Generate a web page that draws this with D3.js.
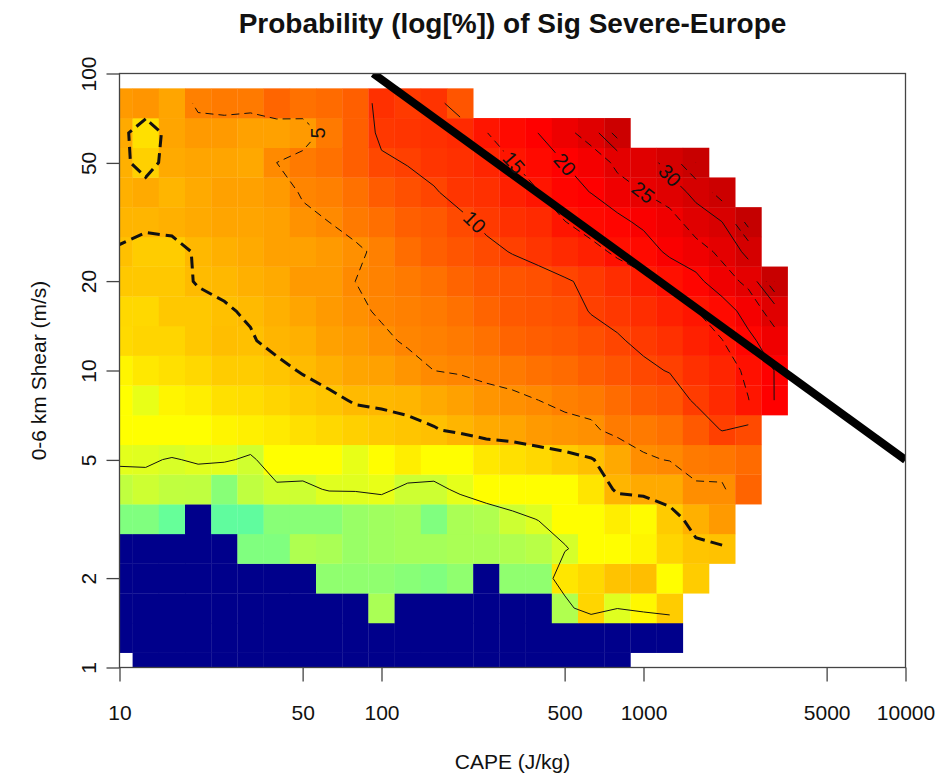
<!DOCTYPE html>
<html>
<head>
<meta charset="utf-8">
<script src="https://d3js.org/d3.v7.min.js"></script>
<style>
  body { margin: 0; background: #fff; }
  text { font-family: "Liberation Sans", Arial, sans-serif; fill: #111; }
</style>
</head>
<body>
<div id="chart-area"></div>
<script>
/*
*    sig severe probability map
*/

// bin centres, log10 units
var logCape = [1.0, 1.1, 1.2, 1.3, 1.4, 1.5, 1.6, 1.7, 1.8, 1.9, 2.0, 2.1, 2.2,
               2.3, 2.4, 2.5, 2.6, 2.7, 2.8, 2.9, 3.0, 3.1, 3.2, 3.3, 3.4, 3.5];
var logShear = [0.0, 0.1, 0.2, 0.3, 0.4, 0.5, 0.6, 0.7, 0.8, 0.9,
                1.0, 1.1, 1.2, 1.3, 1.4, 1.5, 1.6, 1.7, 1.8, 1.9];

var N = -4.6;   // bins with no events (drawn navy)

// log[%] per bin, row 0 = lowest shear, null = no data
var logProb = [
  [null, N, N, N, N, N, N, N, N, N, N, N, N, N, N, N, N, N, N, N],
  [N, N, N, N, N, N, N, N, N, N, N, N, N, N, N, N, N, N, N, N, N, N],
  [N, N, N, N, N, N, N, N, N, N, -1.19, N, N, N, N, N, N, -1.11, 0.59, -0.45, 0.10, 0.71],
  [N, N, N, N, N, N, N, N, -1.55, -1.55, -1.55, -1.66, -1.77, -1.55, N, -1.55, -1.55, 0.35, 0.54, 0.83, 0.90, 0.02, 0.71],
  [N, N, N, N, N, -1.77, -1.77, -1.12, -1.19, -1.43, -1.33, -1.26, -1.26, -1.19, -1.19, -1.11, -1.00, -0.60, 0.02, 0.02, 0.14, 0.59, 0.81, 0.85],
  [-1.77, -1.77, -2.13, N, -2.23, -2.23, -1.66, -1.66, -1.66, -1.43, -1.33, -1.26, -1.77, -1.19, -1.11, -0.71, -0.48, 0.02, 0.02, 0.24, 0.05, 0.72, 1.10, 1.40],
  [-0.89, -0.71, -0.89, -0.90, -1.66, -0.90, -0.67, -0.71, -0.44, -0.44, -0.33, -0.71, -0.71, -0.37, 0.02, 0.02, 0.02, 0.02, 0.36, 1.03, 1.18, 1.18, 1.55, 1.55, 1.97],
  [-0.40, -0.44, -0.55, -0.44, -0.40, -0.66, 0.00, 0.00, 0.00, -0.33, 0.02, 0.24, 0.02, 0.02, 0.32, 0.43, 0.54, 0.71, 0.88, 1.19, 1.56, 1.63, 1.76, 1.80, 1.91],
  [0.00, 0.00, 0.00, 0.00, 0.14, 0.21, 0.29, 0.43, 0.54, 0.66, 0.74, 0.81, 0.88, 1.03, 1.18, 1.24, 1.39, 1.46, 1.53, 1.75, 1.76, 1.85, 2.08, 2.32, 2.22],
  [0.00, -0.33, 0.14, 0.24, 0.43, 0.47, 0.59, 0.71, 0.81, 0.96, 0.99, 1.03, 1.18, 1.30, 1.46, 1.53, 1.61, 1.71, 1.76, 1.90, 2.05, 2.12, 2.35, 2.51, 2.70, 3.00],
  [0.14, 0.32, 0.43, 0.54, 0.71, 0.71, 0.81, 0.95, 1.10, 1.24, 1.30, 1.46, 1.61, 1.66, 1.72, 1.76, 1.85, 1.91, 2.02, 2.12, 2.24, 2.32, 2.46, 2.56, 2.77, 3.00],
  [0.52, 0.59, 0.59, 0.77, 0.90, 0.88, 1.03, 1.10, 1.30, 1.39, 1.53, 1.66, 1.71, 1.76, 1.85, 1.97, 2.03, 2.08, 2.17, 2.27, 2.37, 2.46, 2.60, 2.70, 2.93, 3.14],
  [0.54, 0.54, 0.77, 0.77, 0.88, 0.96, 1.10, 1.24, 1.39, 1.53, 1.66, 1.71, 1.76, 1.85, 1.97, 2.08, 2.12, 2.17, 2.32, 2.39, 2.49, 2.60, 2.70, 2.86, 3.10, 3.31],
  [0.77, 0.77, 0.77, 0.95, 0.99, 1.10, 1.18, 1.39, 1.39, 1.61, 1.69, 1.76, 1.85, 1.97, 2.08, 2.12, 2.17, 2.27, 2.37, 2.49, 2.64, 2.77, 2.93, 3.14, 3.26, 3.69],
  [0.88, 0.71, 0.71, 0.99, 1.10, 1.18, 1.30, 1.30, 1.39, 1.53, 1.71, 1.89, 2.02, 2.12, 2.22, 2.32, 2.42, 2.51, 2.60, 2.77, 2.86, 3.05, 3.14, 3.26, 3.45],
  [1.03, 1.03, 1.10, 1.18, 1.24, 1.24, 1.30, 1.50, 1.61, 1.76, 1.87, 2.02, 2.08, 2.22, 2.37, 2.46, 2.51, 2.70, 2.86, 2.93, 3.05, 3.14, 3.31, 3.40, 3.74],
  [1.10, 1.18, 1.03, 1.18, 1.30, 1.30, 1.39, 1.66, 1.71, 1.85, 2.05, 2.17, 2.27, 2.42, 2.46, 2.60, 2.70, 2.93, 3.00, 3.14, 3.22, 3.31, 3.45, 3.62],
  [1.10, 0.66, 1.18, 1.24, 1.24, 1.20, 1.61, 1.76, 1.85, 2.02, 2.24, 2.32, 2.42, 2.46, 2.56, 2.70, 2.86, 3.00, 3.10, 3.26, 3.31, 3.47, 3.69],
  [1.18, 0.43, 1.24, 1.39, 1.39, 1.30, 1.30, 1.39, 1.76, 2.02, 2.39, 2.42, 2.46, 2.51, 2.70, 2.86, 3.00, 3.16, 3.31, 3.62],
  [1.40, 1.46, 1.24, 1.71, 1.76, 1.76, 1.96, 1.85, 1.91, 2.02, 2.46, 2.37, 2.43, 2.12]
];

var xTicks = [10, 50, 100, 500, 1000, 5000, 10000];
var yTicks = [1, 2, 5, 10, 20, 50, 100];

// contour levels in %
var lineLevels = [0.6, 2.5];               // unlabelled
var labelLevels = [5, 10, 15, 20, 25, 30, 35, 40];

// the straight black line
var lineCape = [93, 10000];
var lineShear = [100, 5];

var W = 952, H = 777;
var pLeft = 119.5, pRight = 905.5, pTop = 73.5, pBottom = 667.5;

var svg = d3.select("#chart-area").append("svg")
  .attr("width", W)
  .attr("height", H);

var x = d3.scaleLog().domain([10, 10000]).range([pLeft, pRight]);
var y = d3.scaleLog().domain([1, 100]).range([pBottom, pTop]);

var color = d3.scaleLinear()
  .domain([N, -2.2, -0.36, 0.0, 0.92, 1.61, 2.30, 2.71, 3.0, 3.22, 3.4, 3.69, 4.1])
  .range(["#00008B", "#61FF9E", "#E6FF19", "#FFFF00", "#FFBD00", "#FF8A00", "#FF4200",
          "#FF1400", "#FF0000", "#E80000", "#D80000", "#C80000", "#B00000"])
  .clamp(true);

svg.append("clipPath").attr("id", "plotclip")
  .append("rect")
  .attr("x", pLeft).attr("y", pTop)
  .attr("width", pRight - pLeft).attr("height", pBottom - pTop);

var plot = svg.append("g").attr("clip-path", "url(#plotclip)");

var stepX = logCape[1] - logCape[0];
var stepY = logShear[1] - logShear[0];
var p10 = (v) => Math.pow(10, v);

var cells = [];
logProb.forEach((row, i) => {
  row.forEach((v, j) => {
    if (v != null) cells.push({ i: i, j: j, v: v });
  });
});

plot.selectAll("rect.cell").data(cells)
  .enter()
  .append("rect")
  .attr("class", "cell")
  .attr("x", (d) => x(p10(logCape[d.j] - stepX / 2)))
  .attr("y", (d) => y(p10(logShear[d.i] + stepY / 2)))
  .attr("width", (d) => x(p10(logCape[d.j] + stepX / 2)) - x(p10(logCape[d.j] - stepX / 2)) + 0.3)
  .attr("height", (d) => y(p10(logShear[d.i] - stepY / 2)) - y(p10(logShear[d.i] + stepY / 2)) + 0.3)
  .attr("fill", (d) => color(d.v));

// ---- contours ----
var nx = logCape.length, ny = logShear.length;
var grid = [];
for (var i = 0; i < ny; i++) {
  for (var j = 0; j < nx; j++) {
    var v = logProb[i][j];
    grid.push(v == null ? NaN : v);
  }
}
function val(c, r) {
  if (c < 0 || c >= nx || r < 0 || r >= ny) return NaN;
  var v = grid[r * nx + c];
  return v === undefined ? NaN : v;
}
var gx = (g) => x(p10(logCape[0] + (g - 0.5) * stepX));
var gy = (g) => y(p10(logShear[0] + (g - 0.5) * stepY));

var gen = d3.contours().size([nx, ny]).smooth(false);

// interpolate a marching-squares edge point, null where it touches missing data
function place(pt, thr) {
  var a = pt[0], b = pt[1], v0, v1;
  if (Number.isInteger(a)) {
    v0 = val(a - 1, b - 0.5); v1 = val(a, b - 0.5);
    if (isNaN(v0) || isNaN(v1)) return null;
    return [gx(a - 0.5 + (thr - v0) / (v1 - v0)), gy(b)];
  }
  v0 = val(a - 0.5, b - 1); v1 = val(a - 0.5, b);
  if (isNaN(v0) || isNaN(v1)) return null;
  return [gx(a), gy(b - 0.5 + (thr - v0) / (v1 - v0))];
}

function polylines(level) {
  var thr = Math.log(level);
  var out = [];
  gen.contour(grid, thr).coordinates.forEach((poly) => {
    poly.forEach((ring) => {
      var pts = ring.slice(0, -1).map((p) => place(p, thr));
      var n = pts.length;
      var start = pts.findIndex((p) => p === null);
      if (start < 0) { out.push(pts.concat([pts[0]])); return; }
      var cur = [];
      for (var k = 1; k <= n; k++) {
        var p = pts[(start + k) % n];
        if (p) cur.push(p);
        else { if (cur.length > 1) out.push(cur); cur = []; }
      }
      if (cur.length > 1) out.push(cur);
    });
  });
  return out;
}

var lineGen = d3.line();

// where R put the labels (approx), used to pick a spot on each line
var labelSpots = {
  5: [335, 118], 10: [480, 205], 15: [505, 190], 20: [560, 180],
  25: [630, 215], 30: [640, 160], 35: [775, 310], 40: [750, 260]
};

var labels = [];
labelLevels.forEach((lev) => {
  var lines = polylines(lev);
  var best = null;
  lines.forEach((ln) => {
    for (var k = 1; k < ln.length - 1; k++) {
      var dd = Math.hypot(ln[k][0] - labelSpots[lev][0], ln[k][1] - labelSpots[lev][1]);
      if (!best || dd < best.d) best = { d: dd, a: ln[k - 1], b: ln[k + 1], p: ln[k] };
    }
  });
  if (best && best.d < 90) {
    var ang = Math.atan2(best.b[1] - best.a[1], best.b[0] - best.a[0]) * 180 / Math.PI;
    if (ang > 90) ang -= 180;
    if (ang < -90) ang += 180;
    labels.push({ lev: lev, x: best.p[0], y: best.p[1], ang: ang });
  }
});

// mask so the lines break under the labels
var mask = svg.append("mask").attr("id", "labmask")
  .attr("maskUnits", "userSpaceOnUse")
  .attr("x", 0).attr("y", 0).attr("width", W).attr("height", H);
mask.append("rect").attr("x", 0).attr("y", 0).attr("width", W).attr("height", H).attr("fill", "white");
mask.selectAll("rect.hole").data(labels)
  .enter()
  .append("rect")
  .attr("class", "hole")
  .attr("x", (d) => -String(d.lev).length * 6 - 3)
  .attr("y", -9)
  .attr("width", (d) => String(d.lev).length * 12 + 6)
  .attr("height", 18)
  .attr("fill", "black")
  .attr("transform", (d) => "translate(" + d.x + "," + d.y + ") rotate(" + d.ang + ")");

var cont = plot.append("g").attr("mask", "url(#labmask)");

lineLevels.forEach((lev, k) => {
  cont.selectAll(null).data(polylines(lev))
    .enter()
    .append("path")
    .attr("d", lineGen)
    .attr("fill", "none")
    .attr("stroke", "#111")
    .attr("stroke-width", k == 0 ? 1 : 3)
    .attr("stroke-dasharray", k == 0 ? null : "12,6");
});

labelLevels.forEach((lev, k) => {
  cont.selectAll(null).data(polylines(lev))
    .enter()
    .append("path")
    .attr("d", lineGen)
    .attr("fill", "none")
    .attr("stroke", "#111")
    .attr("stroke-width", 1)
    .attr("stroke-dasharray", k % 2 == 0 ? "8,5" : null);
});

svg.selectAll("text.clab").data(labels)
  .enter()
  .append("text")
  .attr("class", "clab")
  .attr("transform", (d) => "translate(" + d.x + "," + d.y + ") rotate(" + d.ang + ")")
  .attr("text-anchor", "middle")
  .attr("dy", "0.35em")
  .style("font-size", "20px")
  .text((d) => d.lev);

// straight line
plot.append("line")
  .attr("x1", x(lineCape[0])).attr("y1", y(lineShear[0]))
  .attr("x2", x(lineCape[1])).attr("y2", y(lineShear[1]))
  .attr("stroke", "black")
  .attr("stroke-width", 8);

// ---- frame & axes ----
svg.append("rect")
  .attr("x", pLeft).attr("y", pTop)
  .attr("width", pRight - pLeft).attr("height", pBottom - pTop)
  .attr("fill", "none")
  .attr("stroke", "#444")
  .attr("stroke-width", 1.3);

var xAxis = svg.append("g")
  .attr("transform", "translate(0," + pBottom + ")")
  .call(d3.axisBottom(x).tickValues(xTicks).tickFormat(d3.format("d")).tickSize(14).tickSizeOuter(0));
xAxis.select(".domain").remove();
xAxis.selectAll("line").attr("stroke", "#444").attr("stroke-width", 1.3);
xAxis.selectAll("text")
  .attr("y", 52).attr("dy", 0)
  .style("font-size", "21px")
  .style("font-family", '"Liberation Sans", Arial, sans-serif')
  .attr("fill", "#111");

var yAxis = svg.append("g")
  .attr("transform", "translate(" + pLeft + ",0)")
  .call(d3.axisLeft(y).tickValues(yTicks).tickFormat(d3.format("d")).tickSize(13).tickSizeOuter(0));
yAxis.select(".domain").remove();
yAxis.selectAll("line").attr("stroke", "#444").attr("stroke-width", 1.3);
yAxis.selectAll("text")
  .attr("x", 0).attr("dy", 0).attr("y", 0)
  .attr("transform", "translate(-24,0) rotate(-90)")
  .attr("text-anchor", "middle")
  .style("font-size", "21px")
  .style("font-family", '"Liberation Sans", Arial, sans-serif')
  .attr("fill", "#111");

svg.append("text")
  .attr("x", (pLeft + pRight) / 2)
  .attr("y", 33)
  .attr("text-anchor", "middle")
  .style("font-size", "28px")
  .style("font-weight", "bold")
  .text("Probability (log[%]) of Sig Severe-Europe");

svg.append("text")
  .attr("x", (pLeft + pRight) / 2)
  .attr("y", 769)
  .attr("text-anchor", "middle")
  .style("font-size", "21px")
  .text("CAPE (J/kg)");

svg.append("text")
  .attr("transform", "translate(46," + (pTop + pBottom) / 2 + ") rotate(-90)")
  .attr("text-anchor", "middle")
  .style("font-size", "21px")
  .text("0-6 km Shear (m/s)");
</script>
</body>
</html>
